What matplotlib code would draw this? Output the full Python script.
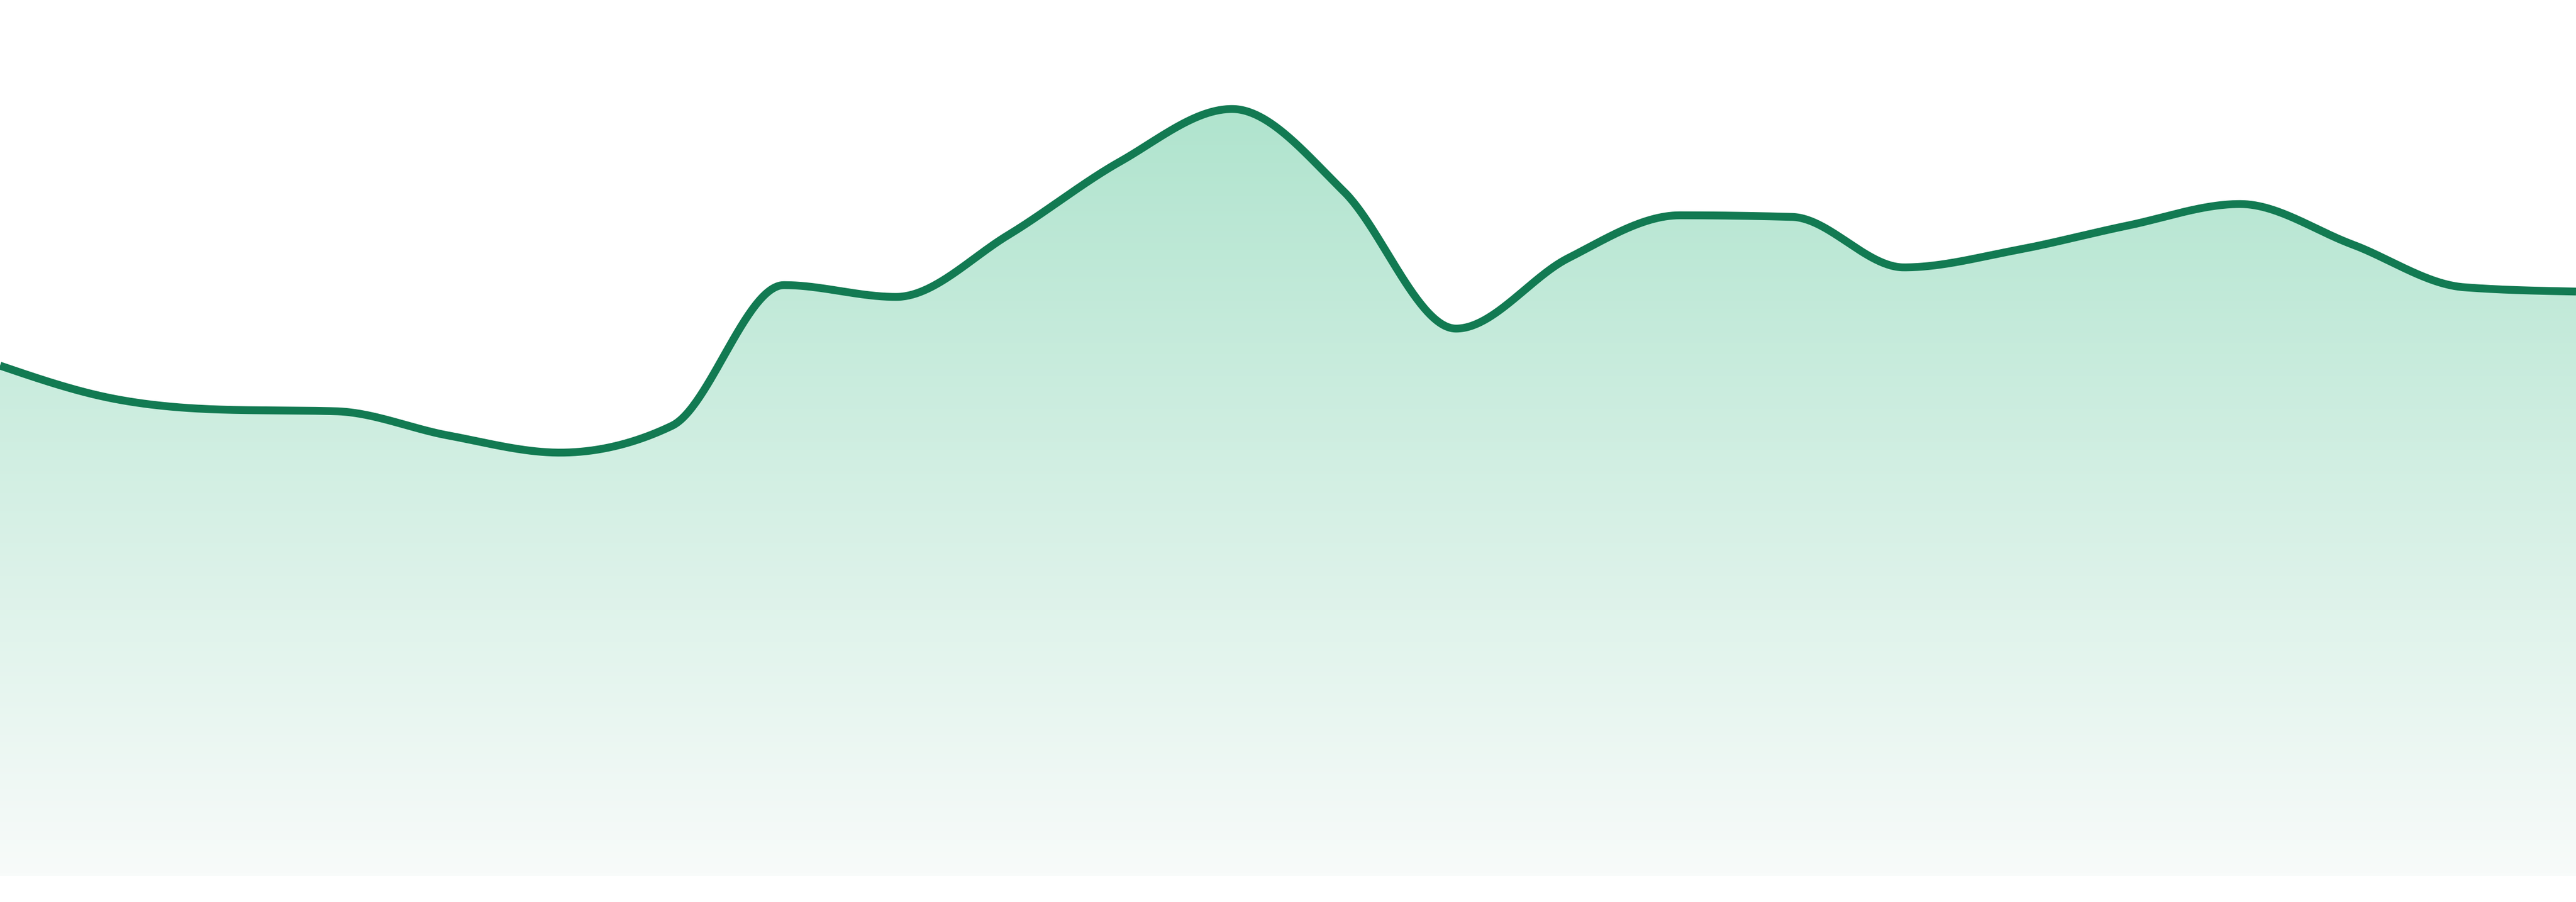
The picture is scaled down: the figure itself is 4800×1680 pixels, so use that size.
import numpy as np
import matplotlib
matplotlib.use('Agg')
import matplotlib.pyplot as plt
from matplotlib.colors import LinearSegmentedColormap
from matplotlib.patches import Polygon

# Series values (one point per period)
periods = list(range(24))
values = [95.1, 89.0, 86.9, 86.6, 82.1, 78.9, 83.9, 110.1, 107.9, 119.4, 133.1, 142.9,
          127.5, 102.0, 115.1, 123.1, 122.8, 113.4, 116.6, 121.2, 125.2, 117.7, 109.7, 108.9]

line_color = '#127a52'
fill_top = '#b0e4ce'
fill_bottom = '#f8fbfa'


def monotone_slopes(x, y):
    # same slope rule as d3.curveMonotoneX
    n = len(x)
    h = np.diff(x)
    s = np.diff(y) / h
    t = np.zeros(n)
    for i in range(1, n - 1):
        p = (s[i - 1] * h[i] + s[i] * h[i - 1]) / (h[i - 1] + h[i])
        t[i] = (np.sign(s[i - 1]) + np.sign(s[i])) * min(abs(s[i - 1]), abs(s[i]), 0.5 * abs(p))
    t[0] = (3 * s[0] - t[1]) / 2
    t[-1] = (3 * s[-1] - t[-2]) / 2
    return t


def monotone_curve(x, y, steps=60):
    x = np.asarray(x, float)
    y = np.asarray(y, float)
    t = monotone_slopes(x, y)
    xs, ys = [], []
    for i in range(len(x) - 1):
        h = x[i + 1] - x[i]
        u = np.linspace(0, 1, steps, endpoint=False)
        h00 = 2 * u**3 - 3 * u**2 + 1
        h10 = u**3 - 2 * u**2 + u
        h01 = -2 * u**3 + 3 * u**2
        h11 = u**3 - u**2
        xs.append(x[i] + u * h)
        ys.append(h00 * y[i] + h10 * h * t[i] + h01 * y[i + 1] + h11 * h * t[i + 1])
    xs.append([x[-1]])
    ys.append([y[-1]])
    return np.concatenate(xs), np.concatenate(ys)


cx, cy = monotone_curve(periods, values)

fig = plt.figure(figsize=(48, 16.8), dpi=100)
ax = fig.add_axes([0, 48 / 1680, 1, 1632 / 1680])
ax.set_xlim(periods[0], periods[-1])
ax.set_ylim(0, 163.2)
ax.axis('off')

# gradient fill under the curve
cmap = LinearSegmentedColormap.from_list('g', [fill_bottom, fill_top])
top = max(values)
grad = np.linspace(0, 1, 256).reshape(-1, 1)
img = ax.imshow(grad, extent=[periods[0], periods[-1], 0, top], origin='lower',
                cmap=cmap, aspect='auto', zorder=1)
verts = np.column_stack([np.r_[cx, cx[-1], cx[0]], np.r_[cy, 0, 0]])
poly = Polygon(verts, closed=True, facecolor='none', edgecolor='none')
ax.add_patch(poly)
img.set_clip_path(poly)

ax.plot(cx, cy, color=line_color, linewidth=10.5, solid_capstyle='butt', zorder=3)

fig.savefig('out.png', dpi=100, facecolor='white')
